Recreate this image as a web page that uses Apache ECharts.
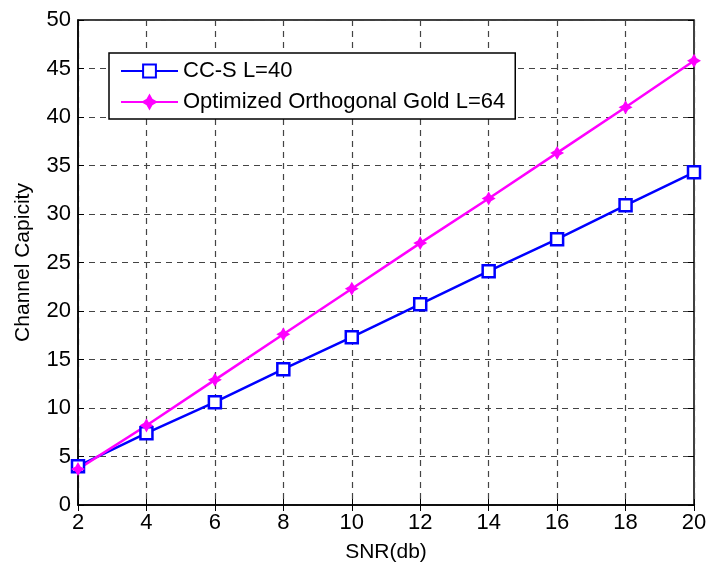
<!DOCTYPE html>
<html>
<head>
<meta charset="utf-8">
<script src="https://cdn.jsdelivr.net/npm/echarts@6/dist/echarts.min.js"></script>
<style>
  html, body { margin: 0; padding: 0; background: #fff; }
  #chart { width: 707px; height: 563px; }
</style>
</head>
<body>
<div id="chart"></div>
<script>
const snr = [2, 4, 6, 8, 10, 12, 14, 16, 18, 20];
const ccs = [4.0, 7.4, 10.6, 14.0, 17.3, 20.7, 24.1, 27.4, 30.9, 34.3];
const gold = [3.7, 8.2, 12.9, 17.6, 22.3, 27.0, 31.6, 36.3, 41.0, 45.8];

const font = 'Liberation Sans, Arial, sans-serif';
const pair = (ys) => snr.map((x, i) => [x, ys[i]]);

const myChart = echarts.init(document.getElementById('chart'));
const tickIn = { show: true, inside: true, length: 6, lineStyle: { color: '#000' } };
const gridDash = { show: true, lineStyle: { color: '#444', type: [6, 5], width: 1.2 } };

myChart.setOption({
  animation: false,
  grid: {
    left: 78, right: 13, top: 20, bottom: 58, outerBoundsMode: 'none', containLabel: false,
    show: true, borderColor: '#000', borderWidth: 1.5
  },
  xAxis: [
    {
      type: 'value', min: 2, max: 20, interval: 2,
      name: 'SNR(db)', nameLocation: 'middle', nameGap: 37,
      nameTextStyle: { fontFamily: font, fontSize: 21, color: '#000' },
      axisLine: { lineStyle: { color: '#000', width: 1.5 } },
      axisTick: tickIn,
      axisLabel: { fontFamily: font, fontSize: 22, color: '#000', margin: 7 },
      splitLine: gridDash
    },
    {
      type: 'value', min: 2, max: 20, interval: 2, position: 'top',
      axisLine: { show: false }, axisTick: tickIn, axisLabel: { show: false }, splitLine: { show: false }
    }
  ],
  yAxis: [
    {
      type: 'value', min: 0, max: 50, interval: 5,
      name: 'Channel Capicity', nameLocation: 'middle', nameGap: 44, nameRotate: 90,
      nameTextStyle: { fontFamily: font, fontSize: 21, color: '#000' },
      axisLine: { show: true, lineStyle: { color: '#000', width: 1.5 } },
      axisTick: tickIn,
      axisLabel: { fontFamily: font, fontSize: 22, color: '#000', margin: 7 },
      splitLine: gridDash
    },
    {
      type: 'value', min: 0, max: 50, interval: 5, position: 'right',
      axisLine: { show: false }, axisTick: tickIn, axisLabel: { show: false }, splitLine: { show: false }
    }
  ],
  legend: {
    orient: 'vertical', left: 109, top: 53,
    backgroundColor: '#fff', borderColor: '#000', borderWidth: 1.5,
    padding: [7, 10, 6, 11], itemGap: 9, itemWidth: 57, itemHeight: 16,
    textStyle: { fontFamily: font, fontSize: 22, color: '#000' },
    data: ['CC-S L=40', 'Optimized Orthogonal Gold L=64']
  },
  series: [
    {
      name: 'CC-S L=40', type: 'line', data: pair(ccs),
      color: '#0000ff', lineStyle: { width: 2.5, color: '#0000ff' },
      symbol: 'rect', symbolSize: 12,
      itemStyle: { color: '#fff', borderColor: '#0000ff', borderWidth: 2.5 }
    },
    {
      name: 'Optimized Orthogonal Gold L=64', type: 'line', data: pair(gold),
      color: '#ff00ff', lineStyle: { width: 2.5, color: '#ff00ff' },
      symbol: 'path://M0,-6 L2.2,-2.2 L6,0 L2.2,2.2 L0,6 L-2.2,2.2 L-6,0 L-2.2,-2.2 Z', symbolSize: 11,
      itemStyle: { color: '#ff00ff', borderColor: '#ff00ff', borderWidth: 1.5 }
    }
  ]
});
</script>
</body>
</html>
